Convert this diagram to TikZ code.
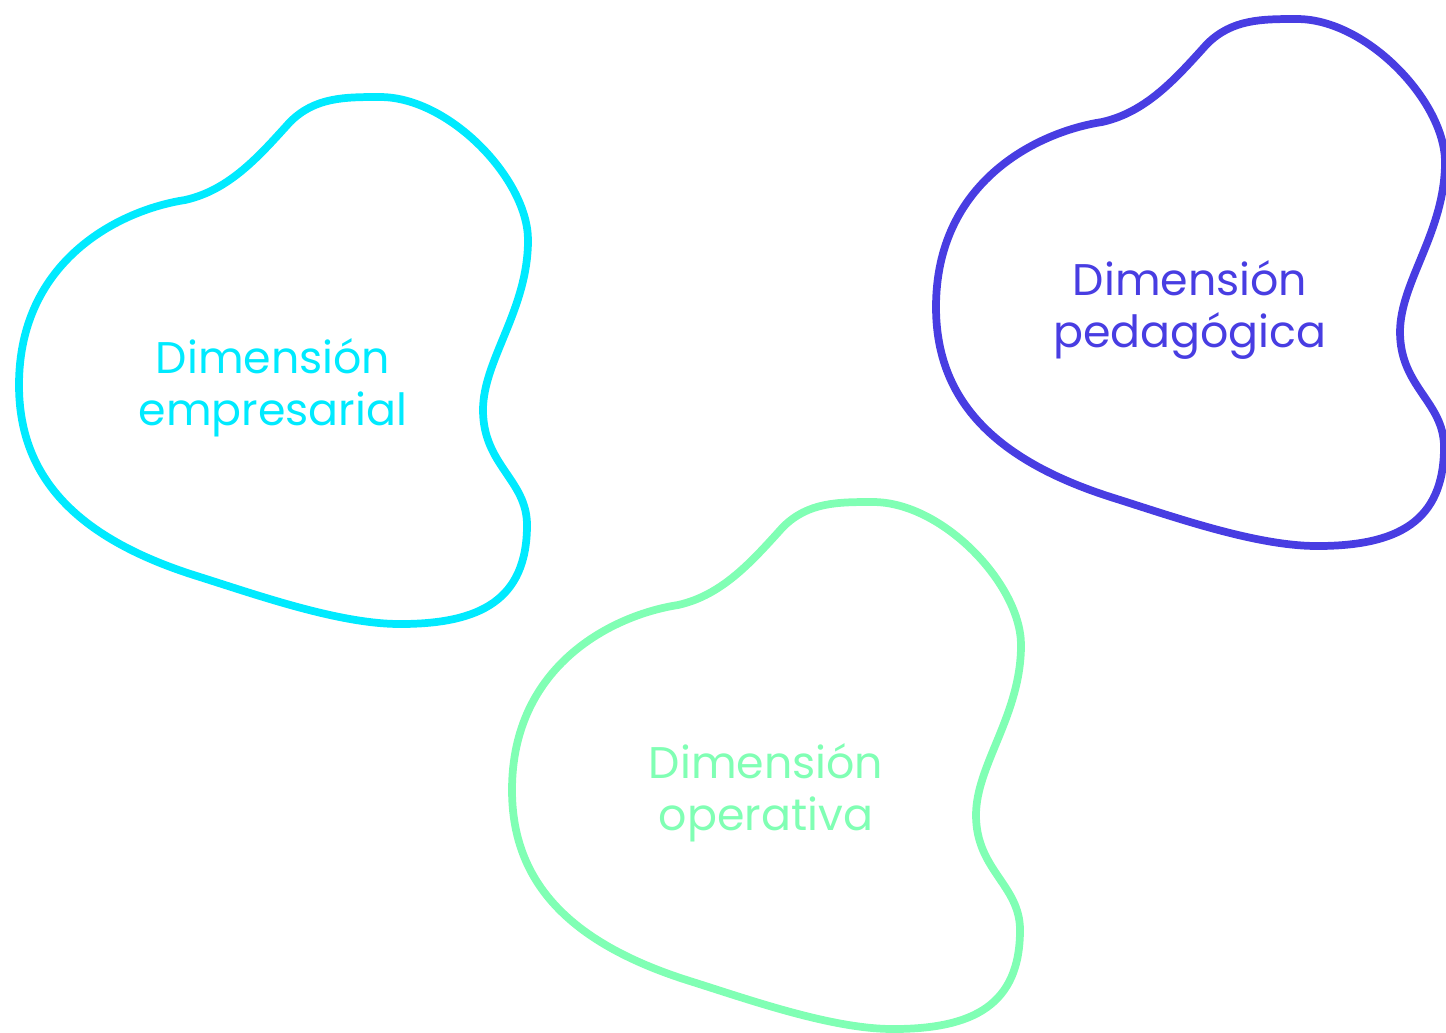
\documentclass[tikz,border=0pt]{standalone}
\usepackage{fontspec}
\setmainfont{Poppins}
\definecolor{cyanBlob}{HTML}{00EAFF}
\definecolor{blueBlob}{HTML}{483DE2}
\definecolor{greenBlob}{HTML}{80FFB4}

\begin{document}
\begin{tikzpicture}
[x=0.01cm,y=-0.01cm,%
  blobDecorate/.style={line width=2.2pt,line join=round},%
  textDecorate/.style={align=center,font=\fontsize{12.6}{14.7}\selectfont}]
\useasboundingbox (0,0) rectangle (1446,1032);
\clip (0,0) rectangle (1446,1032);
%% blobs and their labels
\foreach \nodename/\dx/\dy/\col/\txt in {emp/0/0/cyanBlob/{Dimensión\\empresarial}, ped/917/-78/blueBlob/{Dimensión\\pedagógica}, ope/493/405/greenBlob/{Dimensión\\operativa}}
{
  \draw[blobDecorate,\col,shift={(\dx,\dy)}]
    (380,97) .. controls (450,97) and (528,180) .. (528,240)
    .. controls (528,310) and (483,360) .. (483,410)
    .. controls (483,465) and (527,480) .. (527,525)
    .. controls (527,600) and (480,624) .. (400,624)
    .. controls (340,624) and (260,596) .. (200,577)
    .. controls (80,540) and (19,480) .. (19,385)
    .. controls (19,260) and (120,210) .. (185,200)
    .. controls (230,190) and (260,155) .. (290,122)
    .. controls (315,97) and (345,97) .. cycle;
  \node (\nodename) at (273+\dx,388+\dy) [textDecorate,text=\col] {\txt};
}
\end{tikzpicture}
\end{document}
